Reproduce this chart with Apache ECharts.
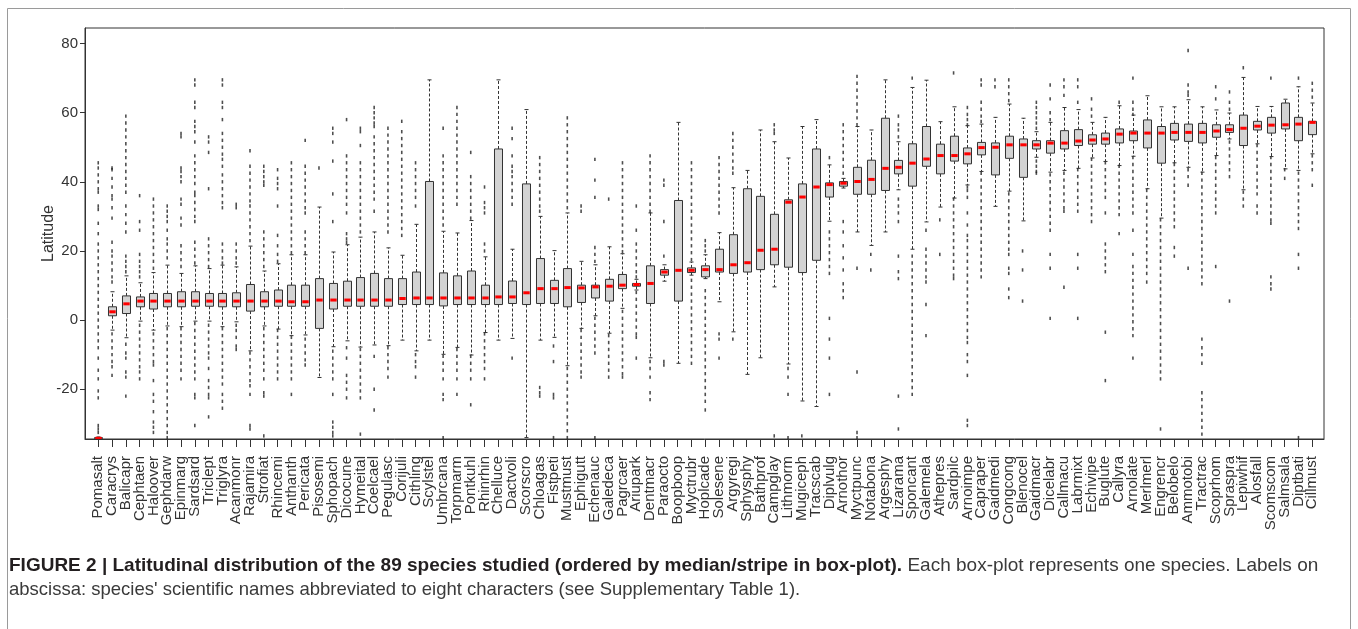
<!DOCTYPE html>
<html><head><meta charset="utf-8">
<script src="https://cdn.jsdelivr.net/npm/echarts@6/dist/echarts.min.js"></script>
<style>html,body{margin:0;padding:0;background:#fff}#c{width:1358px;height:629px}</style>
</head><body><div id="c"></div>
<script>
const categories = ["Pomasalt","Caracrys","Balicapr","Cephtaen","Haloover","Gephdarw","Epinmarg","Sardsard","Triclept","Triglyra",
"Acanmonr","Rajamira","Strofiat","Rhincemi","Anthanth","Pericata","Pisosemi","Sphopach","Dicocune","Hymeital",
"Coelcael","Pegulasc","Corijuli","Cithling","Scylstel","Umbrcana","Torpmarm","Pontkuhl","Rhinrhin","Chelluce",
"Dactvoli","Scorscro","Chloagas","Fistpeti","Mustmust","Ephigutt","Echenauc","Galedeca","Pagrcaer","Ariupark",
"Dentmacr","Paraocto","Boopboop","Myctrubr","Hoplcade","Solesene","Argyregi","Sphysphy","Bathprof","Campglay",
"Lithmorm","Mugiceph","Tracscab","Diplvulg","Arnothor","Myctpunc","Notabona","Argesphy","Lizarama","Sponcant",
"Galemela","Athepres","Sardpilc","Arnoimpe","Capraper","Gaidmedi","Congcong","Blenocel","Gaidmacr","Dicelabr",
"Callmacu","Labrmixt","Echivipe","Buglute","Callyra","Arnolate","Merlmerl","Engrencr","Belobelo","Ammotobi",
"Tractrac","Scoprhom","Spraspra","Lepiwhif","Alosfall","Scomscom","Salmsala","Diptbati","Cillmust"];

// [lower whisker, Q1, median, Q3, upper whisker]
const boxStats = [
[-34.4,-34.3,-34.2,-34.0,-33.8],[-2.9,1.25,2.4,3.85,8.2],[-5.1,1.9,4.7,7.0,12.8],[-0.3,3.85,5.5,6.7,10.8],[-2.9,3.2,5.5,7.7,13.75],
[-1.7,3.85,5.5,7.7,15.9],[-1.9,3.85,5.5,8.2,13.5],[-0.3,4,5.5,8.2,15.7],[-0.3,4,5.5,7.7,14.9],[-1.9,3.85,5.5,7.7,15.9],
[-0.5,3.85,5.5,7.9,15.4],[-8.9,2.6,5.5,10.3,21.4],[-1.7,3.85,5.5,8.2,14.2],[-2.6,4,5.5,8.7,16.3],[-4.5,4,5.3,10.1,18.9],
[-4.3,4,5.3,10.1,18.9],[-16.6,-2.4,5.8,12,32.7],[-7.7,3.2,5.8,10.6,19.7],[-6,4,5.8,11.25,21.8],[-7.8,4,5.8,12.3,24],
[-7.2,4,5.8,13.5,25.5],[-7.4,4,5.8,12,20.9],[-5.8,4.5,6.25,12,18.75],[-8.9,4.5,6.4,13.9,27.7],[-5.8,4.5,6.4,40.1,69.5],
[-9.9,4.1,6.4,13.65,25.7],[-7.9,4.5,6.4,12.8,25.2],[-10.1,4.5,6.4,14.2,28.8],[-3.6,4.5,6.4,10.1,18.3],[-5.8,4.5,6.7,49.5,69.5],
[-5.3,4.8,6.7,11.3,20.5],[-34,4.5,7.9,39.4,60.9],[-5.8,4.8,9.1,17.8,30],[-5,4.8,9.1,11.5,20.1],[-13.2,3.85,9.4,14.9,31],
[-2.4,5.1,9.3,10.1,17],[1.25,6.4,9.6,10.1,16],[-3.8,5.5,9.8,11.8,21.2],[3.4,9.1,10.1,13.2,19.2],[8.7,9.8,10.3,10.6,11.8],
[-10.9,4.8,10.6,15.7,31],[11.25,13,13.9,14.6,16],[-12.5,5.5,14.4,34.6,57.2],[13,13.75,14.4,15.1,16.8],[12,12.5,14.6,15.7,18.9],
[5.3,13.9,14.6,20.5,25.3],[-3.4,13.5,16,24.7,38.3],[-15.7,13.9,16.6,38,43.3],[-10.9,14.6,20.2,35.8,55],[9.6,16,20.5,30.6,51.6],
[-12.7,15.3,34.1,34.8,46.9],[-23.4,13.75,35.6,39.4,56],[-25,17.3,38.5,49.5,58],[28.6,35.6,39.2,39.7,44.9],[38.2,38.75,39.6,40.1,41],
[25.5,36.4,40.1,44.2,56],[21.6,36.4,40.7,46.25,55],[25.5,37.5,43.9,58.4,69.5],[37.7,42.3,44.2,46.2,51.6],[20.5,38.75,45.4,51,67.3],
[28.4,44.5,46.6,56,69.4],[32.7,42.3,47.6,50.9,57.4],[35.3,46,47.6,53.2,61.7],[39.1,45.2,48.1,49.8,56.25],[43,47.8,49.9,51.4,56.7],
[32.9,42,50,51.25,58.65],[37.3,46.8,50.7,53.2,62.5],[28.7,41.3,50.7,52.4,58.4],[47.1,49.5,50.7,51.9,54.5],[42.8,48.3,51.2,51.9,57.2],
[43.3,49.5,51.2,54.8,61.5],[43.9,50.5,51.8,55.1,60.9],[46.9,50.9,52.1,53.6,57.2],[45.9,50.9,52.4,54.1,58.65],[44.7,51.25,53.8,55.3,62],
[47.4,51.9,54.1,54.7,59.3],[38,49.8,54.1,57.9,64.9],[29.5,45.4,54.1,56,61.7],[45.5,52.1,54.3,56.9,61.7],[44.2,51.7,54.3,56.7,63.75],
[42.8,51.25,54.3,56.9,61.7],[47.6,52.9,54.7,56.5,60.8],[52.4,54.3,55.1,56.5,59.9],[37.7,50.5,55.5,59.3,70.2],[51,55,56.1,57.5,61.8],
[47.3,54.1,56.4,58.65,61.8],[43.75,55.3,56.5,62.8,63.9],[43.3,51.9,56.7,58.65,67.5],[48.1,53.65,57.2,57.5,62.8]
];

const outliers = [
[45.5,44,42,40,38,37,33,32,28,25,22,20,18,16,14,12,10,8,6,4,2,0,-2,-4,-6,-8,-11,-14.5,-17,-20.5,-22.5,-30.5,-31.5,-32.5],
[44,43.5,41,38.5,36,35,32.5,29.5,22.5,20,18.5,16.5,14.5,12.5,11,-4,-6,-8,-10,-12,-13.5,-16],
[59,57,55,53,51,49,47,45,43,41,39,37,33,30.5,28,25.5,18.5,17,15.5,14,-7,-9.5,-11,-15,-16.5,-22],
[36,28.5,26,19,17,15.5,14,12.5,-1.5,-3.5,-5.5,-7.5,-9.5,-11.5,-13.5,-15,-17],
[35,33,31,29,27,25,23,21,19,17,15,-4,-6,-8,-10,-12,-13,-17.5,-21.5,-23.5,-26.5,-29.5,-31,-32.5],
[33,31.5,30,28.5,26,23.5,22,20,18,-2.5,-4.5,-6.5,-8.5,-10.5,-12.5,-14.5,-16.5,-18.5,-20.5,-22.5,-24.5,-26.5,-28.5,-30.5,-32.5,-34],
[54,53,44,43,41.5,40,35,33.5,29.5,27.5,21.5,19.5,17.5,15.5,-2.5,-4.5,-6.5,-8.5,-10.5,-12.5,-14.5,-17],
[69.5,68,63,61.5,57.5,56,54.5,51.5,47.5,45.5,43.5,41.5,39.5,37,36,34,32,30,28.5,22.5,20.5,18.5,16.5,-1,-3,-5,-7,-9,-11,-13,-15,-17,-21.5,-22.5,-30.5],
[53,51.5,48.5,38,23.5,21.5,19.5,17.5,15.5,-1.5,-3.5,-5.5,-7.5,-9.5,-11,-14,-17.5,-19.5,-21.5,-22.5,-28],
[69.5,68,63,61.5,58,54,52,50,48,46.5,44.5,42,40,38,36,34,32.5,22,20,18,16.5,-2.5,-4.5,-6.5,-8.5,-10.5,-12.5,-14.5,-16.5,-18.5,-21.5,-23.5,-25.5],
[33.5,32.5,22,20,18,16.5,-1.5,-3,-5,-7.5,-8.5],
[49,44.5,42.5,40.5,38.5,36.5,34.5,33,31,29,27,25,23,-9.5,-11.5,-13.5,-15.5,-17.5,-19,-21.5,-30.5,-31.5],
[44.5,43,41.5,40,39,25.5,23.5,21.5,19.5,17.5,15.5,-2.5,-4.5,-6.5,-8.5,-10.5,-12.5,-14.5,-17,-21,-22,-33.5],
[43.5,41,39.5,38,33,24.5,21.5,19,17,-3,-5,-7,-9,-11,-13,-15,-17],
[45.5,43.5,41.5,39.5,37.5,35.5,33.5,31.5,29.5,27.5,25.5,23.5,21.5,19.5,-5,-7,-9,-11,-13,-15,-17,-21.5],
[52,44.5,42.5,40.5,38.5,36.5,34.5,32.5,31,25.5,23.5,21.5,19.5,-5.5,-7.5,-9.5,-11.5,-13],
[44],
[55.5,54,51.5,46,36.5,28.5,-9,-11,-13,-15,-17,-21.5,-29.5,-31,-32.5,-33.5],
[58,47.5,45.5,43.5,41.5,39.5,37.5,35.5,33.5,31,25,23.5,22.5,-8,-11,-16,-18,-20,-22.5],
[55.5,54.5,50.5,45.5,43.5,41.5,39.5,37.5,35.5,33.5,31.5,29.5,27.5,25.5,-8.5,-10.5,-12.5,-14.5,-16.5,-18.5,-20.5,-22.5,-33],
[61.5,60,58.5,57,56,53,51,49,47,45,43,41,39,37,35,31.5,-10.5,-20,-26],
[55.5,53.5,51.5,49.5,47.5,45.5,43.5,41.5,39.5,37.5,35.5,33.5,31.5,29.5,27.5,25.5,-8,-10,-12,-14,-16.5],
[57.5,54.5,52.5,50.5,48.5,46.5,44.5,42.5,40.5,38.5,36.5,34.5,32.5,30.5,28.5,26.5,24.5],
[45.5,43.5,41.5,39.5,37.5,35.5,33,-10,-12,-13.5,-16.5],
[],
[55.5,47.5,45.5,43.5,41.5,39.5,37.5,35.5,33.5,31.5,29.5,27.5,-10.5,-12.5,-14.5,-17,-21.5,-23,-34],
[61.5,59.5,57.5,55.5,53.5,51.5,49.5,47.5,45.5,43.5,41.5,39.5,37.5,35.5,33.5,-8.5,-10.5,-12.5,-14.5,-17,-21.5],
[48.5,41.5,39.5,37.5,35.5,33.5,31.5,29.5,-10.5,-12.5,-14.5,-17,-24.5],
[38.5,34,32.5,31,22,20,-4,-6,-8,-10,-12,-14,-17],
[],
[55.5,52.5,47.5,44.5,43,41.5,39.5,37.5,35.5,33.5,-11],
[],
[47,45,43,41,39,37,35,33,31.5,-19.5,-21,-22],
[-7.5,-12,-21.5,-22.5,-34],
[58.5,56.5,54.5,52.5,50.5,48.5,46.5,44.5,42.5,40.5,38.5,36.5,34.5,32.5,-14,-16,-18,-20,-22,-24,-26,-28,-30,-32,-34],
[33,31.5,-3,-5,-7,-9,-11,-13,-15,-16.5],
[46.5,40.5,35.5,21,19,17,0.5,-1.5,-3.5,-5.5,-7.5,-9.5,-34],
[35,-4.5,-6.5,-8.5,-10.5,-12.5,-14.5,-16.5],
[45.5,43.5,41.5,39.5,37.5,35.5,33.5,31.5,29.5,27.5,25.5,23.5,21.5,19.8,2.5,0.5,-1.5,-3.5,-5.5,-7.5,-9.5,-11.5,-13.5,-15.5,-16.5],
[33,26,22,20,18,16,14,12.5,8,6,4,2,0,-2,-4,-5,-11],
[47.5,45.5,43.5,41.5,39.5,37.5,35.5,33.5,31.5,-12,-14,-16.5,-21,-23],
[40.5,39,28.5,18.5,-12,-13],
[],
[45.5,43.5,41.5,39.5,37.5,35.5,33.5,31.5,29.5,27.5,25.5,23.5,21.5,19.5,17.5,11.5,9.5,7.5,5.5,3.5,1.5,-0.5,-2.5,-4.5,-6.5,-8.5,-10.5,-12.5],
[23,21.5,20,8.5,6.5,4.5,2.5,0.5,-1.5,-3.5,-5.5,-7.5,-9.5,-11.5,-13.5,-15.5,-17.5,-19.5,-21.5,-23.5,-26],
[47,45,43,41,39,37,35,33,31,-4,-5.5,-11],
[54,52,50,48,46,44,42.5,-5.5],
[],
[],
[56.5,55,54,-33.5],
[-14,-16.5,-21.5,-34],
[-33.5],
[],
[47,25.5,23.5,21.5,19.5,17.5,15.5,13.5,0.5,-5.5,-11,-21.5],
[56.5,54.5,52.5,50.5,48.5,46.5,44.5,42.5,28.5,25.5,21.5,18,14.5,10.5,8.5,6.5],
[70.5,68.5,66.5,64.5,62.5,60.5,58.5,56.5,15,-15,-32.5,-34],
[19,14.5],
[],
[59,56.5,55,53,35,33,31,28.5,18.5,14,12,-22,-31.5],
[70,18.5,16.5,14.5,12.5,10.5,8.5,6.5,4.5,2.5,0.5,-1.5,-3.5,-5.5,-7.5,-9.5,-11.5,-13.5,-15.5,-17.5,-19.5,-21.5],
[26,20.5,18.5,16.5,14.5,12.5,11,4.5,-4.5],
[29,19],
[71.5,35,33,31,29,27,25,23,21,19,17,15,13,12],
[61.5,59.5,58,56.5,38.5,37.5,35.5,31,27.5,24.5,23,21,19,17,15,13,11,9,7,5,3,1,-1,-3,-5,-6.5,-10,-12,-16,-29,-30.5],
[69.5,68,63,61,59,57.5,42.5,40.5,38.5,36.5,34.5,32.5,30.5,28.5,26.5,24.5,22.5,20.5,18.5,16.5,14.5,12.5],
[69.5,67.5],
[69.5,67.5,65.5,63.5,36.5,34.5,32.5,30.5,28.5,26.5,24.5,22.5,20.5,19,15,13.5,9,6.5],
[20,14.5,5.5],
[63,61.5,60,58.5,57,55.5,46,44.5,43,42.5],
[68,64,60,58,42,40,38,36,34,32,30,28,26,19,15,0.5],
[69.5,67.5,65,42.5,40.5,38.5,36.5,34.5,32.5,31.5,9.5],
[69.5,67.5,63,43.5,41.5,39.5,37.5,35.5,33.5,31.5,19,15,0.5],
[64,61,59,46.5,44.5,42.5,40.5,38.5,36.5,34.5,32.5,30.5,28.5],
[45.5,43.5,41.5,39.5,37.5,35.5,31,22,20,18,16,14,-3.5,-17.5],
[63,44.5,42.5,40.5,38.5,36.5,34.5,32.5,30.5,25],
[70,63,61,59.5,47,45,43,41,39,37,35,33,31,26,19,15.5,13.5,11.5,9.5,7.5,5.5,3.5,1.5,-0.5,-2.5,-4.5,-11],
[37.5,35.5,33.5,31.5,29.5,27.5,25.5,23.5,21.5,19.5,17.5,15.5,13.5,11],
[29,27,25,23,21,19,17,15,13,11,9,7,5,3,1,-1,-3,-5,-7,-9,-11,-13,-15,-17,-31.5],
[45,43,41,39,37,35,33,31,29,27,21,18.5],
[78,68,66,65,43.5,41.5,39,15],
[42.5,40.5,38.5,36.5,34.5,32.5,30.5,28.5,26.5,24.5,22.5,20.5,18.5,16.5,14.5,12.5,10.5,-5.5,-8,-10,-12.5,-21,-23,-25,-27,-29,-31,-33,-34.5],
[67.5,64,47,45,43,41,39,37,35,33,31,15.5],
[66,63,61,51.5,49.5,47.5,45.5,43.5,41.5,5.5],
[73,37,35,33],
[50.5,48.5,46.5,44.5,42.5,40.5,38.5,36.5,33,31],
[70,47,45,43,41,39,37,35,33,31,29,28,12.5,10.5,9],
[43.5,41],
[70,42.5,40.5,38.5,36.5,34.5,32.5,30.5,28.5,26.5,19,15,-34],
[68.5,66.5,64.5,47.5,45.5,43.5,39]
];

const yTicks = [-20, 0, 20, 40, 60, 80];
const xTicks = categories.map((c, i) => i + 1);
const xTicksOdd = xTicks.filter(v => v % 2 === 1);
const xTicksEven = xTicks.filter(v => v % 2 === 0);

const boxData = boxStats.map((s, i) => [i + 1].concat(s));
const outlierData = [];
outliers.forEach((arr, i) => arr.forEach(v => outlierData.push([i + 1, v])));

function renderBox(params, api) {
  const x = api.value(0);
  const lo = api.coord([x, api.value(1)]);
  const q1 = api.coord([x, api.value(2)]);
  const md = api.coord([x, api.value(3)]);
  const q3 = api.coord([x, api.value(4)]);
  const hi = api.coord([x, api.value(5)]);
  const bw = api.size([1, 0])[0] * 0.58;
  const sw = bw * 0.5;
  const cx = Math.round(lo[0]) + 0.5;
  const dash = { stroke: '#333', lineWidth: 1, lineDash: [3, 2] };
  const solid = { stroke: '#333', lineWidth: 1 };
  return {
    type: 'group',
    children: [
      { type: 'line', shape: { x1: cx, y1: q1[1], x2: cx, y2: lo[1] }, style: dash },
      { type: 'line', shape: { x1: cx, y1: q3[1], x2: cx, y2: hi[1] }, style: dash },
      { type: 'line', shape: { x1: cx - sw / 2, y1: lo[1], x2: cx + sw / 2, y2: lo[1] }, style: solid },
      { type: 'line', shape: { x1: cx - sw / 2, y1: hi[1], x2: cx + sw / 2, y2: hi[1] }, style: solid },
      { type: 'rect', shape: { x: cx - bw / 2, y: q3[1], width: bw, height: Math.max(q1[1] - q3[1], 0.5) },
        style: { fill: '#d3d3d3', stroke: '#333', lineWidth: 1 } },
      { type: 'line', shape: { x1: cx - bw / 2 + 0.8, y1: md[1], x2: cx + bw / 2 - 0.8, y2: md[1] },
        style: { stroke: '#ff0000', lineWidth: 3 } }
    ]
  };
}

const labelStyle = { rotate: 90, formatter: v => categories[Math.round(v) - 1] || '',
  showMinLabel: true, showMaxLabel: true, hideOverlap: false, fontSize: 15, color: '#333', margin: 17 };

const chart = echarts.init(document.getElementById('c'), null, { renderer: 'canvas' });
chart.setOption({
  animation: false,
  backgroundColor: '#fff',
  textStyle: { fontFamily: 'Liberation Sans, Arial, sans-serif' },
  grid: { left: 85, right: 34, top: 28, bottom: 190, show: true, borderColor: '#333', borderWidth: 1, backgroundColor: 'transparent' },
  xAxis: [{
    type: 'value', min: 0.04, max: 89.85, position: 'bottom',
    axisLine: { show: true, onZero: false, lineStyle: { color: '#333' } },
    splitLine: { show: false },
    axisTick: { show: true, customValues: xTicks, length: 8, lineStyle: { color: '#333' } },
    axisLabel: Object.assign({ customValues: xTicksOdd }, labelStyle)
  }, {
    type: 'value', min: 0.04, max: 89.85, position: 'bottom', offset: 0,
    axisLine: { show: false, onZero: false },
    splitLine: { show: false },
    axisTick: { show: false },
    axisLabel: Object.assign({ customValues: xTicksEven }, labelStyle)
  }],
  yAxis: {
    type: 'value', min: -34.4, max: 84.5,
    name: 'Latitude', nameLocation: 'middle', nameGap: 28, nameMoveOverlap: false,
    nameTextStyle: { fontSize: 16, color: '#333' },
    axisLine: { show: true, onZero: false, lineStyle: { color: '#333' } },
    splitLine: { show: false },
    axisTick: { show: true, customValues: yTicks, length: 5, lineStyle: { color: '#333' } },
    axisLabel: { customValues: yTicks, showMinLabel: true, showMaxLabel: true, fontSize: 15, color: '#333', margin: 7 }
  },
  graphic: [
    { type: 'polyline', silent: true,
      shape: { points: [[7.5, 629], [7.5, 8.5], [1350.5, 8.5], [1350.5, 629]] },
      style: { stroke: '#9a9a9a', fill: null, lineWidth: 1 } },
    { type: 'text', left: 9, top: 556,
      style: {
        text: '{b|FIGURE 2 | Latitudinal distribution of the 89 species studied (ordered by median/stripe in box-plot).}{n| Each box-plot represents one species. Labels on}',
        rich: {
          b: { fontSize: 19, fontWeight: 'bold', fill: '#231f20', fontFamily: 'Liberation Sans' },
          n: { fontSize: 19, fill: '#3a3a3a', fontFamily: 'Liberation Sans' }
        }
      } },
    { type: 'text', left: 9, top: 580,
      style: { text: "abscissa: species' scientific names abbreviated to eight characters (see Supplementary Table 1).",
        fontSize: 18.5, fill: '#3a3a3a', fontFamily: 'Liberation Sans' } }
  ],
  series: [
    { type: 'scatter', xAxisIndex: 0, data: outlierData, symbol: 'rect', symbolSize: [1.6, 3.4],
      itemStyle: { color: '#222' }, clip: true, z: 1, silent: true },
    { type: 'custom', xAxisIndex: 0, renderItem: renderBox, data: boxData, clip: true, z: 2,
      encode: { x: 0, y: [1, 2, 3, 4, 5] }, silent: true }
  ]
});
</script></body></html>
